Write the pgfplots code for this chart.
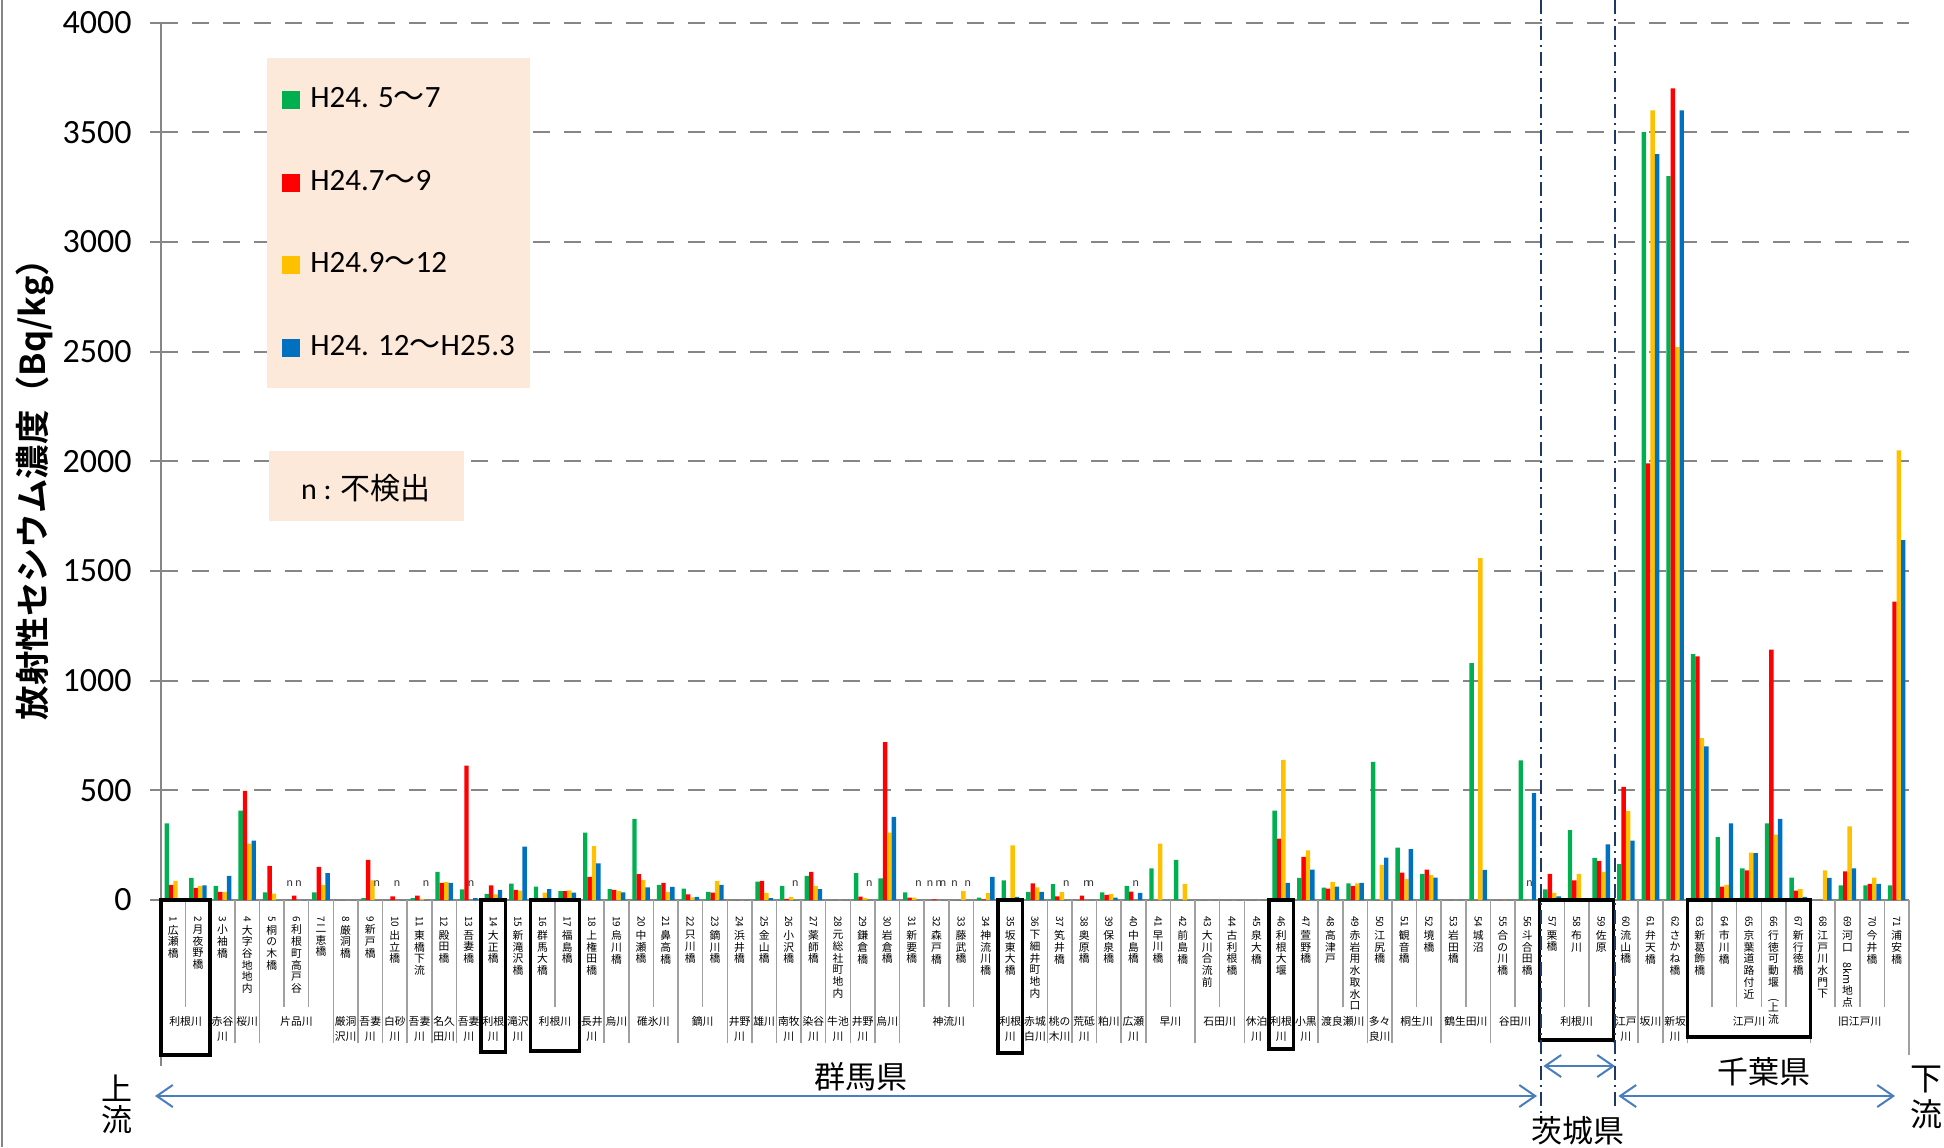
\documentclass[border=0pt]{standalone}
\usepackage{fontspec}
\setmainfont{Carlito}
\newfontfamily\jp{Noto Sans CJK JP}[BoldFont={Noto Sans CJK JP Bold}]
\usepackage{graphicx}
\usepackage{pgfplots}
\usepackage{pgfplotstable}
\pgfplotsset{compat=1.18}
\usetikzlibrary{arrows.meta}

\definecolor{cg}{RGB}{0,176,80}
\definecolor{cr}{RGB}{255,0,0}
\definecolor{cy}{RGB}{255,192,0}
\definecolor{cb}{RGB}{0,112,192}
\definecolor{peach}{RGB}{253,233,217}
\definecolor{ax}{RGB}{134,134,134}
\definecolor{sepc}{RGB}{160,160,160}
\definecolor{arr}{RGB}{74,126,187}
\definecolor{navy}{RGB}{31,56,100}

\newlength\vw \setlength\vw{6.5pt}
\def\rot{}
\def\vchars#1{\ifx\relax#1\let\next\relax\else\ifx\rot#1\let\next\vrot\else\hbox to\vw{\hss#1\hss}\let\next\vchars\fi\fi\next}
\def\vrot#1{\hbox to\vw{\hss\rotatebox{-90}{#1}\hss}\vchars}
\protected\def\vlab#1#2{\vbox{\offinterlineskip\hbox to\vw{\hss\rotatebox{-90}{\fontsize{5}{5}\selectfont#1}\hss}\kern1.5pt\vbox{\baselineskip=5.85pt\lineskip=0.5pt\lineskiplimit=0pt\vchars#2\relax}}}
\newcommand\wv{{\jp ～}}

\pgfplotsset{mylegimg/.style={legend image code/.code={\path[##1,draw=none] (0pt,-4.5pt) rectangle (9pt,4.5pt);}}}

\pgfplotstableread{
x g r y b
1 349 69 87 0
2 101 55 64 67
3 64 37 37 110
4 408 498 257 271
5 35 156 29 0
6 0 20 0 0
7 35 151 69 122
8 0 0 0 0
9 9 183 90 0
10 0 17 0 0
11 9 20 5 0
12 128 78 81 78
13 49 612 0 9
14 28 67 26 46
15 75 46 43 243
16 61 0 34 50
17 40 40 44 34
18 307 106 246 167
19 50 46 40 35
20 370 118 92 58
21 69 78 37 60
22 52 26 12 14
23 37 34 87 69
24 0 0 0 0
25 84 87 32 9
26 64 5 14 0
27 110 128 64 50
28 0 0 0 0
29 122 15 9 0
30 99 720 307 379
31 35 11 11 0
32 0 3 0 0
33 0 0 40 0
34 11 3 31 106
35 90 9 249 14
36 37 76 58 37
37 72 17 37 0
38 0 20 0 0
39 35 23 28 11
40 64 38 0 32
41 144 0 257 0
42 183 0 73 0
43 0 0 0 0
44 0 0 0 0
45 0 0 0 0
46 408 280 639 78
47 101 197 226 138
48 57 52 83 61
49 76 64 76 78
50 630 0 160 193
51 239 125 96 232
52 119 138 113 102
53 0 0 0 0
54 1080 0 1558 137
55 0 0 0 0
56 636 0 0 487
57 49 119 32 17
58 318 90 119 0
59 192 178 128 254
60 163 516 405 271
61 3500 1990 3600 3400
62 3300 3700 2520 3600
63 1121 1110 738 700
64 287 61 69 349
65 144 135 216 214
66 349 1141 298 370
67 102 43 50 14
68 0 0 135 101
69 67 131 336 144
70 67 73 102 73
71 67 1360 2050 1640
}\data

\begin{document}
\begin{tikzpicture}
\useasboundingbox (-80.5pt,-123.5pt) rectangle (891.5pt,450pt);
\begin{axis}[
  at={(0pt,0pt)}, anchor=south west,
  scale only axis, width=874pt, height=438.75pt,
  xmin=0.5, xmax=71.5, ymin=0, ymax=4000,
  ybar=0pt, bar width=2.2pt,
  axis x line*=bottom, axis y line*=left,
  axis line style={draw=ax, line width=1pt},
  xtick={1,...,71},
  xticklabels={\vlab{1}{広瀬橋},\vlab{2}{月夜野橋},\vlab{3}{小袖橋},\vlab{4}{大字谷地地内},\vlab{5}{桐の木橋},\vlab{6}{利根町高戸谷},\vlab{7}{二恵橋},\vlab{8}{厳洞橋},\vlab{9}{新戸橋},\vlab{10}{出立橋},\vlab{11}{東橋下流},\vlab{12}{殿田橋},\vlab{13}{吾妻橋},\vlab{14}{大正橋},\vlab{15}{新滝沢橋},\vlab{16}{群馬大橋},\vlab{17}{福島橋},\vlab{18}{上権田橋},\vlab{19}{烏川橋},\vlab{20}{中瀬橋},\vlab{21}{鼻高橋},\vlab{22}{只川橋},\vlab{23}{鏑川橋},\vlab{24}{浜井橋},\vlab{25}{金山橋},\vlab{26}{小沢橋},\vlab{27}{薬師橋},\vlab{28}{元総社町地内},\vlab{29}{鎌倉橋},\vlab{30}{岩倉橋},\vlab{31}{新要橋},\vlab{32}{森戸橋},\vlab{33}{藤武橋},\vlab{34}{神流川橋},\vlab{35}{坂東大橋},\vlab{36}{下細井町地内},\vlab{37}{笂井橋},\vlab{38}{奥原橋},\vlab{39}{保泉橋},\vlab{40}{中島橋},\vlab{41}{早川橋},\vlab{42}{前島橋},\vlab{43}{大川合流前},\vlab{44}{古利根橋},\vlab{45}{泉大橋},\vlab{46}{利根大堰},\vlab{47}{萱野橋},\vlab{48}{高津戸},\vlab{49}{赤岩用水取水口},\vlab{50}{江尻橋},\vlab{51}{観音橋},\vlab{52}{境橋},\vlab{53}{岩田橋},\vlab{54}{城沼},\vlab{55}{合の川橋},\vlab{56}{斗合田橋},\vlab{57}{栗橋},\vlab{58}{布川},\vlab{59}{佐原},\vlab{60}{流山橋},\vlab{61}{弁天橋},\vlab{62}{さかね橋},\vlab{63}{新葛飾橋},\vlab{64}{市川橋},\vlab{65}{京葉道路付近},\vlab{66}{行徳可動堰\rot{(}上流\rot{)}},\vlab{67}{新行徳橋},\vlab{68}{江戸川水門下},\vlab{69}{河口\rot{8km}地点},\vlab{70}{今井橋},\vlab{71}{浦安橋}},
  x tick style={draw=none},
  xticklabel style={anchor=north, inner sep=0pt, yshift=-2.5pt, font=\jp\fontsize{5.4}{5.85}\selectfont},
  ytick={0,500,...,4000},
  ytick style={draw=ax, line width=1pt},
  major tick length=5.5pt, tick align=outside,
  yticklabel style={font=\fontsize{17}{20}\selectfont, anchor=east, inner sep=0pt, xshift=-9pt},
  /pgf/number format/assume math mode=true,
  /pgf/number format/set thousands separator={},
  ymajorgrids,
  grid style={draw=ax, line width=1pt, dash pattern=on 8.5pt off 7pt},
  ylabel={放射性セシウム濃度（Bq/kg）},
  ylabel style={at={(axis description cs:-0.0721,0.4775)}, anchor=center, font=\jp\bfseries\fontsize{17.2}{19}\selectfont},
  clip=false,
  every axis plot post/.append style={mylegimg},
  legend style={at={(axis description cs:0.0692,0.9275)}, anchor=north west, draw=none, fill=none,
    inner sep=0pt, row sep=27.75pt, column sep=5pt, font=\fontsize{15.5}{17}\selectfont,
    nodes={inner sep=0pt, text height=10.5pt, text depth=3pt}},
  legend cell align=left,
]
\fill[peach] (rel axis cs:0.0606,0.5835) rectangle (rel axis cs:0.2111,0.9595);
\fill[peach] (rel axis cs:0.0618,0.4319) rectangle (rel axis cs:0.1733,0.5117);
\node[font=\fontsize{15}{18}\selectfont] at (rel axis cs:0.1173,0.4695) {n : {\jp 不検出}};
\addplot[fill=cg, draw=none] table[x=x,y=g]{\data};
\addlegendentry{H24. 5\wv 7}
\addplot[fill=cr, draw=none] table[x=x,y=r]{\data};
\addlegendentry{H24.7\wv 9}
\addplot[fill=cy, draw=none] table[x=x,y=y]{\data};
\addlegendentry{H24.9\wv 12}
\addplot[fill=cb, draw=none] table[x=x,y=b]{\data};
\addlegendentry{H24. 12\wv H25.3}
\pgfplotsinvokeforeach{5.7319,6.0894,9.2681,10.0894,11.2681,13.0894,26.2681,29.2681,31.2681,31.7319,32.0894,32.2681,32.7319,33.2681,37.2681,38.0894,38.2681,40.0894,56.0894}{
  \node[font=\fontsize{6}{6}\selectfont, inner sep=0pt, text=black!80] at (axis cs:#1,75) {n};
}
\end{axis}
% separators
\foreach \k in {1,5,6,16,20,22,31,32,33,41,43,48,51,53,55,57,58,63,64,65,66,68,69,70}
  \draw[sepc, line width=0.75pt] ({\k*12.30986pt},0pt) -- ({\k*12.30986pt},-53.5pt);
\foreach \k in {2,3,4,7,8,9,10,11,12,13,14,15,17,18,19,21,23,24,25,26,27,28,29,30,34,35,36,37,38,39,40,42,44,45,46,47,49,50,52,54,56,59,60,61,62,67}
  \draw[sepc, line width=0.75pt] ({\k*12.30986pt},0pt) -- ({\k*12.30986pt},-71.5pt);
\draw[ax, line width=1pt] (0pt,0pt) -- (0pt,-83pt);
\draw[sepc, line width=0.75pt] (874pt,0pt) -- (874pt,-77.5pt);
% river names
\foreach \s/\e/\t in {1/2/利根川,3/3/赤谷\\川,4/4/桜川,5/7/片品川,8/8/厳洞\\沢川,9/9/吾妻\\川,10/10/白砂\\川,11/11/吾妻\\川,12/12/名久\\田川,13/13/吾妻\\川,14/14/利根\\川,15/15/滝沢\\川,16/17/利根川,18/18/長井\\川,19/19/烏川,20/21/碓氷川,22/23/鏑川,24/24/井野\\川,25/25/雄川,26/26/南牧\\川,27/27/染谷\\川,28/28/牛池\\川,29/29/井野\\川,30/30/烏川,31/34/神流川,35/35/利根\\川,36/36/赤城\\白川,37/37/桃の\\木川,38/38/荒砥\\川,39/39/粕川,40/40/広瀬\\川,41/42/早川,43/44/石田川,45/45/休泊\\川,46/46/利根\\川,47/47/小黒\\川,48/49/渡良瀬川,50/50/多々\\良川,51/52/桐生川,53/54/鶴生田川,55/56/谷田川,57/59/利根川,60/60/江戸\\川,61/61/坂川,62/62/新坂\\川,63/67/江戸川,68/71/旧江戸川}
  \node[font=\jp\fontsize{5.4}{7.5}\selectfont, align=center, anchor=north, inner sep=0pt] at ({((\s+\e-1)/2)*12.30986pt},-58.2pt) {\t};
% boxes
\begin{scope}[line width=1.75pt, black]
\draw (0pt,0pt) rectangle (24.62pt,-77.5pt);
\draw (160.03pt,0pt) rectangle (172.34pt,-76pt);
\draw (184.65pt,0pt) rectangle (209.27pt,-75.5pt);
\draw (418.54pt,0pt) rectangle (430.85pt,-76.5pt);
\draw (553.94pt,0pt) rectangle (566.25pt,-74.5pt);
\draw (689.35pt,0pt) rectangle (726.29pt,-70pt);
\draw (763.21pt,0pt) rectangle (824.76pt,-68.5pt);
\end{scope}
% dash-dot prefecture borders
\draw[navy, line width=1pt, dash pattern=on 7pt off 2.5pt on 1pt off 2.5pt] (690pt,450pt) -- (690pt,-106.5pt);
\draw[navy, line width=1pt, dash pattern=on 7pt off 2.5pt on 1pt off 2.5pt] (727pt,450pt) -- (727pt,-103.5pt);
% arrows
\draw[arr, line width=1pt, {Straight Barb[length=8pt,width=11pt]}-{Straight Barb[length=8pt,width=11pt]}] (-3pt,-98pt) -- (688pt,-98pt);
\draw[arr, line width=1pt, {Straight Barb[length=8pt,width=11pt]}-{Straight Barb[length=8pt,width=11pt]}] (691.2pt,-83pt) -- (727pt,-83pt);
\draw[arr, line width=1pt, {Straight Barb[length=8pt,width=11pt]}-{Straight Barb[length=8pt,width=11pt]}] (728.7pt,-98pt) -- (867pt,-98pt);
% prefecture labels
\node[font=\jp\fontsize{15.5}{16}\selectfont] at (350pt,-88.3pt) {群馬県};
\node[font=\jp\fontsize{15.5}{16}\selectfont] at (708.5pt,-115.4pt) {茨城県};
\node[font=\jp\fontsize{15.5}{16}\selectfont] at (801.5pt,-85.8pt) {千葉県};
\node[font=\jp\fontsize{15.5}{15.5}\selectfont, align=center, inner sep=0pt] at (-22pt,-102.25pt) {上\\流};
\node[font=\jp\fontsize{16}{18}\selectfont, align=center, inner sep=0pt] at (882.5pt,-98.75pt) {下\\流};
\draw[ax, line width=0.75pt] (-79.6pt,450pt) -- (-79.6pt,-123.5pt);
\end{tikzpicture}
\end{document}
